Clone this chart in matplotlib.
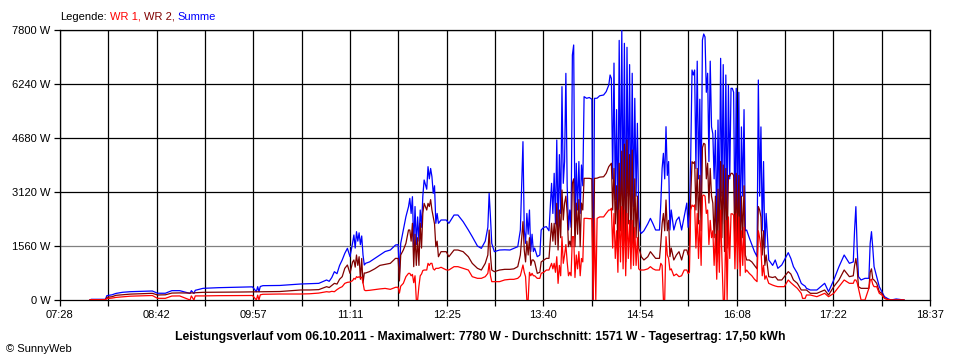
import matplotlib
matplotlib.use("Agg")
import matplotlib.pyplot as plt

plt.rcParams['font.family'] = ['Liberation Sans', 'DejaVu Sans']
plt.rcParams['font.size'] = 8

# Zeitpunkte (HH:MM) und Leistung in W: WR 1 (rot), WR 2 (dunkelrot), Summe (blau)
zeiten = [
    # früh
    "07:51", "07:52", "08:03", "08:04", "08:08", "08:11", "08:16", "08:22", "08:30", "08:39",
    "08:43", "08:49", "08:54", "09:00", "09:08", "09:09", "09:11", "09:12", "09:18", "09:30",
    "09:46", "09:56", "09:59", "10:00", "10:01", "10:02", "10:04", "10:17", "10:33", "10:40", "10:47",
    # 11:11 Buckel
    "10:53", "10:55", "10:57", "10:59", "11:01", "11:03", "11:05", "11:07", "11:09", "11:11",
    "11:13", "11:14", "11:15", "11:16", "11:17", "11:18", "11:19", "11:20", "11:21", "11:22",
    "11:23", "11:26", "11:30", "11:34", "11:38", "11:42",
    # Mittag
    "11:46", "11:48", "11:49", "11:50", "11:52", "11:54", "11:56", "11:57", "11:58", "11:59",
    "12:00", "12:01", "12:02", "12:03", "12:04", "12:05", "12:06", "12:07", "12:08", "12:10",
    "12:11", "12:12", "12:13", "12:14", "12:15", "12:16", "12:17", "12:18", "12:19", "12:21",
    "12:25", "12:27", "12:31", "12:34", "12:38", "12:42", "12:45", "12:49", "12:52", "12:55",
    "12:57", "12:58", "12:59", "13:00", "13:02", "13:06", "13:10", "13:14", "13:17",
    # 13:20 - 14:32
    "13:20", "13:22", "13:24", "13:25", "13:26", "13:27", "13:28", "13:29", "13:30", "13:31",
    "13:32", "13:33", "13:35", "13:37", "13:38", "13:40", "13:42", "13:44", "13:46", "13:47",
    "13:48", "13:49", "13:50", "13:51", "13:52", "13:53", "13:54", "13:55", "13:56", "13:57",
    "13:58", "13:59", "14:00", "14:01", "14:02", "14:03", "14:04", "14:05", "14:06", "14:07",
    "14:08", "14:09", "14:10", "14:11", "14:13", "14:15", "14:17", "14:18", "14:19", "14:20",
    "14:21", "14:23", "14:26", "14:28", "14:30", "14:31", "14:32",
    # 14:33 - 14:57
    "14:33", "14:34", "14:35", "14:36", "14:37", "14:38", "14:39", "14:40", "14:41", "14:42",
    "14:43", "14:44", "14:45", "14:46", "14:47", "14:48", "14:49", "14:50", "14:51", "14:52",
    "14:53", "14:54", "14:55", "14:57",
    # 15:00 - 15:32
    "15:00", "15:02", "15:04", "15:06", "15:09", "15:10", "15:11", "15:12", "15:13", "15:14",
    "15:15", "15:16", "15:17", "15:18", "15:20", "15:22", "15:24", "15:26", "15:28", "15:30",
    "15:31", "15:32",
    # 15:33 - 16:15
    "15:33", "15:34", "15:35", "15:36", "15:37", "15:38", "15:39", "15:40", "15:41", "15:42",
    "15:43", "15:44", "15:45", "15:46", "15:47", "15:48", "15:49", "15:50", "15:51", "15:52",
    "15:53", "15:54", "15:55", "15:56", "15:57", "15:58", "15:59", "16:00", "16:01", "16:02",
    "16:03", "16:04", "16:05", "16:06", "16:07", "16:08", "16:09", "16:10", "16:11", "16:12",
    "16:13", "16:14", "16:15",
    # Abend
    "16:16", "16:18", "16:20", "16:22", "16:24", "16:25", "16:26", "16:27", "16:28", "16:29",
    "16:30", "16:31", "16:33", "16:36", "16:38", "16:40", "16:43", "16:45", "16:48", "16:50",
    "16:52", "16:55", "16:58", "16:59", "17:01", "17:02", "17:05", "17:10", "17:13", "17:16",
    "17:19", "17:23", "17:27", "17:31", "17:35", "17:38", "17:39", "17:40", "17:41", "17:42",
    "17:44", "17:47", "17:50", "17:51", "17:52", "17:53", "17:54", "17:56", "17:58", "18:00",
    "18:02", "18:05", "18:07", "18:11", "18:17",
]

summe = [
    0, 20, 20, 125, 150, 190, 222, 240, 250, 260,
    195, 195, 270, 270, 190, 270, 190, 280, 337, 356,
    370, 380, 240, 385, 240, 390, 414, 420, 462, 470, 481,
    578, 540, 650, 818, 760, 1000, 1156, 1348, 1493, 1252,
    1650, 1878, 1500, 1974, 1700, 1940, 1600, 1850, 1300, 1011,
    1060, 1100, 1200, 1300, 1400, 1444,
    1588, 1600, 770, 1637, 2022, 2407, 2696, 2937, 2500, 2985,
    1540, 2700, 1600, 2400, 1700, 2600, 2100, 3000, 3467, 3200,
    3852, 3500, 3800, 3563, 3081, 3300, 2215, 2500, 2215, 2311,
    2311, 2215, 2455, 2455, 2263, 2022, 1830, 1560, 1492, 1700,
    2100, 3081, 2400, 1637, 1396, 1444, 1450, 1444, 1492,
    1540, 2022, 4574, 2022, 1637, 2500, 1900, 2600, 1400, 1900,
    1400, 1500, 1252, 1300, 2022, 2100, 2119, 2000, 3370, 2500,
    3660, 2200, 4622, 2022, 4200, 2500, 6163, 3370, 4000, 6548,
    3300, 2022, 2600, 2100, 7078, 7367, 2022, 3950, 2600, 4000,
    2500, 3900, 3300, 5874, 5826, 5850, 5800, 0, 5826, 5826,
    5830, 5900, 5922, 6019, 6211, 6500, 6400,
    3500, 6844, 2900, 5500, 2000, 7500, 3000, 7800, 2500, 7415,
    1540, 7300, 3000, 6800, 2200, 6550, 2700, 5826, 3000, 5104,
    2407, 2000, 1925, 2000,
    2200, 2359, 2200, 2022, 2022, 2792, 3800, 4237, 3500, 5007,
    3600, 4000, 2022, 2600, 2022, 2300, 2400, 2022, 2407, 2800,
    2100, 2500,
    4141, 6644, 6500, 6644, 3800, 6900, 3500, 5800, 2900, 7511,
    7684, 7600, 6000, 6550, 4000, 6900, 5000, 4800, 3500, 4900,
    2000, 5200, 2500, 6981, 3000, 6800, 2200, 6500, 2500, 6200,
    3500, 6115, 6115, 6000, 2000, 6115, 2500, 6000, 1600, 5000,
    3000, 5500, 2000,
    2022, 1800, 1600, 1400, 1252, 6355, 3000, 5000, 2000, 4000,
    1500, 2500, 1156, 1000, 1156, 915, 1011, 1156, 1368, 1200,
    963, 770, 482, 450, 400, 337, 289, 289, 385, 482,
    241, 578, 963, 1300, 1060, 1100, 2022, 2697, 1500, 674,
    578, 626, 626, 1637, 1974, 1500, 963, 674, 385, 241,
    96, 30, 0, 29, 0,
]

wr2 = [
    0, 10, 10, 77, 95, 135, 150, 170, 180, 193,
    145, 150, 200, 205, 200, 205, 200, 210, 222, 225,
    230, 235, 235, 240, 235, 240, 240, 245, 289, 290, 300,
    385, 360, 420, 481, 460, 600, 674, 915, 1011, 770,
    1100, 1156, 950, 1300, 1000, 1250, 600, 1200, 490, 780,
    780, 820, 900, 1000, 1030, 1059,
    1203, 1200, 550, 1300, 1444, 1637, 2022, 2022, 1700, 2215,
    963, 1900, 1000, 1800, 1000, 2215, 1500, 2500, 2792, 2600,
    2792, 2700, 2900, 2600, 2400, 2200, 1540, 1700, 1250, 1396,
    1396, 1250, 1444, 1444, 1396, 1250, 1059, 915, 866, 1059,
    1300, 2022, 1300, 866, 818, 866, 886, 886, 900,
    963, 1300, 2263, 1444, 1100, 1700, 1300, 1800, 1000, 1156,
    1156, 1100, 770, 800, 1100, 1150, 1203, 1203, 2215, 1700,
    2215, 1600, 2792, 1444, 2600, 1800, 3178, 2311, 2800, 3000,
    2500, 1540, 1700, 1540, 3370, 3500, 1540, 2800, 1900, 2900,
    1540, 2800, 2600, 3515, 3515, 3515, 3500, 0, 3515, 3515,
    3520, 3550, 3560, 3660, 3853, 3900, 3950,
    2600, 3800, 2200, 3300, 1400, 3950, 2000, 4300, 1500, 4500,
    1100, 4622, 2200, 4200, 1400, 4333, 1500, 3500, 1800, 3000,
    1500, 1400, 1250, 1156,
    1250, 1396, 1300, 1203, 1203, 1637, 2200, 2500, 2000, 2889,
    2000, 2300, 1250, 1500, 1156, 1300, 1396, 1156, 1444, 1444,
    1300, 1500,
    2985, 3995, 3947, 3995, 2600, 3800, 2200, 3600, 2000, 4400,
    4526, 4500, 3500, 3950, 2800, 3800, 3000, 2800, 1800, 3000,
    1100, 3200, 1500, 4000, 1800, 3900, 1400, 3800, 1500, 3600,
    3570, 3659, 3659, 3600, 1500, 3659, 1600, 3600, 1100, 3000,
    1800, 3300, 1300,
    1156, 1156, 1100, 1000, 900, 2700, 2600, 2400, 1300, 2000,
    1000, 1300, 674, 650, 674, 578, 578, 674, 819, 750,
    578, 482, 289, 289, 289, 289, 193, 193, 240, 289,
    144, 385, 578, 867, 674, 700, 1000, 1200, 900, 385,
    337, 337, 337, 800, 900, 600, 578, 482, 241, 193,
    50, 10, 0, 0, 0,
]

wr1 = [
    0, 8, 8, 40, 55, 75, 90, 110, 120, 130,
    48, 48, 115, 118, 0, 118, 0, 118, 118, 125,
    130, 130, 0, 140, 0, 150, 165, 173, 173, 180, 200,
    240, 230, 250, 240, 300, 350, 385, 481, 510, 520,
    560, 626, 600, 674, 650, 674, 640, 660, 500, 290,
    270, 280, 300, 320, 335, 308,
    366, 370, 200, 400, 481, 674, 770, 770, 700, 740,
    500, 700, 0, 0, 400, 700, 750, 850, 866, 866,
    1059, 1000, 1059, 1059, 900, 866, 915, 915, 915, 945,
    870, 866, 963, 963, 915, 866, 674, 626, 626, 674,
    770, 1059, 700, 530, 530, 530, 580, 597, 597,
    626, 700, 1011, 800, 674, 0, 0, 800, 700, 770,
    700, 700, 626, 626, 770, 800, 866, 866, 1059, 900,
    1059, 800, 1250, 480, 1000, 700, 1830, 1059, 1300, 1600,
    1100, 700, 800, 700, 1830, 1830, 650, 1300, 900, 1400,
    700, 1200, 1100, 2359, 2359, 2350, 2350, 0, 2359, 0,
    2359, 2400, 2400, 2504, 2600, 2600, 2650,
    1500, 2500, 1200, 2000, 800, 2600, 1100, 2700, 900, 2600,
    700, 2500, 1200, 2300, 900, 2300, 1000, 2100, 1000, 1800,
    900, 866, 866, 866,
    900, 963, 900, 866, 866, 1059, 1000, 0, 0, 1830,
    1300, 1200, 866, 900, 700, 750, 674, 700, 866, 866,
    770, 800,
    2600, 2745, 2700, 2745, 1500, 2500, 1200, 2300, 1000, 3000,
    3033, 3000, 2500, 2600, 1600, 2300, 1800, 2000, 1000, 1900,
    600, 2000, 800, 2600, 1200, 0, 0, 2300, 0, 2400,
    1200, 2490, 2490, 2450, 900, 2490, 900, 2400, 700, 2000,
    1000, 2100, 800,
    866, 770, 700, 600, 530, 2000, 1800, 1500, 700, 1000,
    600, 700, 481, 430, 404, 385, 385, 385, 578, 500,
    433, 337, 193, 48, 48, 144, 144, 96, 144, 193,
    96, 193, 385, 578, 482, 482, 578, 578, 500, 337,
    0, 0, 337, 578, 600, 450, 385, 385, 193, 144,
    48, 10, 0, 0, 0,
]

x_labels = ["07:28", "08:42", "09:57", "11:11", "12:25",
            "13:40", "14:54", "16:08", "17:22", "18:37"]
y_werte = [0, 1560, 3120, 4680, 6240, 7800]

assert len(zeiten) == len(summe) == len(wr1) == len(wr2)


def to_min(s):
    h, m = s.split(":")
    return int(h) * 60 + int(m)


t = [to_min(s) for s in zeiten]
t_start = to_min(x_labels[0])
t_end = to_min(x_labels[-1])
n_int = 2 * (len(x_labels) - 1)
x_ticks = [t_start + k * (t_end - t_start) / n_int for k in range(n_int + 1)]

fig = plt.figure(figsize=(9.6, 3.6), dpi=100)
ax = fig.add_axes([60 / 960, 60 / 360, 870 / 960, 270 / 360])

# Gitter
for xt in x_ticks:
    ax.axvline(xt, color="black", lw=0.9, zorder=1)
for yv in y_werte[1:]:
    ax.axhline(yv, color="#808080" if yv == 1560 else "black", lw=0.9, zorder=1)

ax.plot(t, summe, color="#0000ff", lw=0.9, zorder=3)
ax.plot(t, wr2, color="#800000", lw=0.9, zorder=4)
ax.plot(t, wr1, color="#ff0000", lw=0.9, zorder=5)

ax.set_xlim(t_start, t_end)
ax.set_ylim(0, 7800)
ax.set_xticks(x_ticks)
ax.set_xticklabels([x_labels[k // 2] if k % 2 == 0 else "" for k in range(n_int + 1)])
ax.set_yticks(y_werte)
ax.set_yticklabels([f"{v} W" for v in y_werte])
ax.tick_params(axis="both", direction="out", length=4, width=0.9, colors="black", labelsize=8)
ax.tick_params(axis="x", pad=3)
ax.tick_params(axis="y", pad=3)
for sp in ax.spines.values():
    sp.set_color("black")
    sp.set_linewidth(0.9)

# Legende oben links, mehrfarbig
renderer = fig.canvas.get_renderer()
xpos = 60 / 960
for txt, col in [("Legende:", "black"), ("WR 1,", "#ff0000"), ("WR 2,", "#800000"), ("Summe", "#0000ff")]:
    tt = fig.text(xpos, 1 - 16.5 / 360, txt, color=col, fontsize=8, va="center", ha="left")
    bb = tt.get_window_extent(renderer)
    xpos += (bb.width + 3.1) / 960

fig.text(0.5, 1 - 337 / 360,
         "Leistungsverlauf vom 06.10.2011 - Maximalwert: 7780 W - Durchschnitt: 1571 W - Tagesertrag: 17,50 kWh",
         fontsize=8.8, fontweight="bold", ha="center", va="center")
fig.text(6 / 960, 1 - 349 / 360, "\u00a9 SunnyWeb", fontsize=8, ha="left", va="center")

fig.savefig("out.png", dpi=100, facecolor="white")
